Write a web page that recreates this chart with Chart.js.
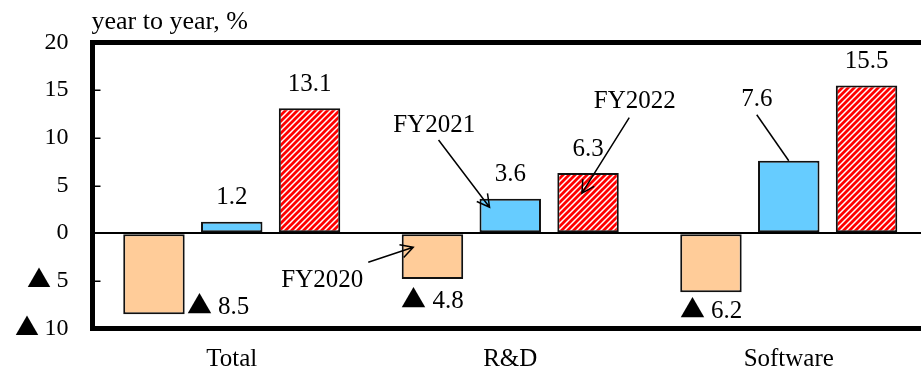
<!DOCTYPE html>
<html>
<head>
<meta charset="utf-8">
<script src="https://cdn.jsdelivr.net/npm/chart.js@4/dist/chart.umd.min.js"></script>
<style>
  /* full-width triangle used as the minus sign */
  @font-face {
    font-family: 'MinusMark';
    src: local('Noto Sans CJK JP'), local('Noto Sans CJK JP Regular'), local('NotoSansCJKjp-Regular'), local('Noto Sans CJK SC');
    unicode-range: U+25B2;
  }
  html, body { margin: 0; padding: 0; background: #fff; overflow: hidden; }
  #wrap { width: 940px; height: 371px; }
</style>
</head>
<body>
<div id="wrap"><canvas id="c" width="940" height="371"></canvas></div>
<script>
// Categories and year-on-year changes (%)
const categories = ['Total', 'R&D', 'Software'];
const seriesNames = ['FY2020', 'FY2021', 'FY2022'];
const fy2020 = [-8.5, -4.8, -6.2];
const fy2021 = [1.2, 3.6, 7.6];
const fy2022 = [13.1, 6.3, 15.5];
const yMin = -10;
const yMax = 20;
const yStep = 5;
const unitLabel = 'year to year, %';

const FONT = 'MinusMark, "Liberation Serif", "Times New Roman", serif';
const fmtSigned = (v, digits) => (v < 0 ? '\u25B2 ' : '') + Math.abs(v).toFixed(digits);

// Red diagonal hatch for the latest fiscal year
function makeHatch() {
  const s = 6;
  const tile = document.createElement('canvas');
  tile.width = s; tile.height = s;
  const g = tile.getContext('2d');
  g.fillStyle = '#ffffff';
  g.fillRect(0, 0, s, s);
  g.strokeStyle = '#ff0000';
  g.lineWidth = 2.8;
  g.beginPath();
  g.moveTo(-1, s + 1); g.lineTo(s + 1, -1);
  g.moveTo(-1, 1); g.lineTo(1, -1);
  g.moveTo(s - 1, s + 1); g.lineTo(s + 1, s - 1);
  g.stroke();
  return g.createPattern(tile, 'repeat');
}

// Value label placement relative to the end of each bar: [dx, baseline dy, align, leader]
const labelPlacement = [
  [[0, 0, 'right-of'], [0, 29, 'center'], [0, 26, 'center']],
  [[0, -17.5, 'center'], [0, -17.5, 'center'], [-32, -55, 'center', true]],
  [[0, -17.5, 'center'], [0, -17.5, 'center'], [0, -17.5, 'center']]
];

// Series callouts: text and arrow positions as (category, pixel offset, value)
const callouts = [
  { text: seriesNames[0], cat: 1, tx: -188, ty: -5.64, ax: -142, ay: -3.05, bx: -97, by: -1.48 },
  { text: seriesNames[1], cat: 1, tx: -76, ty: 10.62, ax: -71.7, ay: 9.78, bx: -20.7, by: 2.72 },
  { text: seriesNames[2], cat: 1, tx: 124.5, ty: 13.1, ax: 119, ay: 12.12, bx: 71.7, by: 4.19 }
];

const decorations = {
  id: 'decorations',
  afterDatasetsDraw(chart) {
    const ctx = chart.ctx;
    const area = chart.chartArea;
    const xs = chart.scales.x;
    const ys = chart.scales.y;
    ctx.save();

    // short inner tick marks on the value axis
    ctx.strokeStyle = '#000';
    ctx.lineWidth = 1.5;
    for (let v = yMin + yStep; v < yMax; v += yStep) {
      if (v === 0) continue;
      const y = Math.round(ys.getPixelForValue(v)) + 0.25;
      ctx.beginPath();
      ctx.moveTo(area.left, y);
      ctx.lineTo(area.left + 8, y);
      ctx.stroke();
    }

    // value labels
    ctx.fillStyle = '#000';
    ctx.font = '25px ' + FONT;
    ctx.textBaseline = 'alphabetic';
    chart.data.datasets.forEach((ds, di) => {
      const meta = chart.getDatasetMeta(di);
      meta.data.forEach((el, i) => {
        const v = ds.data[i];
        const [dx, dy, align, leader] = labelPlacement[di][i];
        const text = fmtSigned(v, 1);
        let x = el.x + dx;
        const y = el.y + dy;
        if (align === 'right-of') {
          ctx.textAlign = 'left';
          x = el.x + el.width / 2 + 2;
        } else {
          ctx.textAlign = 'center';
        }
        ctx.fillText(text, x, y);
        if (leader) {
          ctx.lineWidth = 1.5;
          ctx.beginPath();
          ctx.moveTo(el.x + dx, el.y + dy + 9);
          ctx.lineTo(el.x, el.y);
          ctx.stroke();
        }
      });
    });

    // series callouts with arrows
    ctx.textAlign = 'center';
    ctx.lineWidth = 1.5;
    callouts.forEach(c => {
      const cx = xs.getPixelForValue(c.cat);
      ctx.fillText(c.text, cx + c.tx, ys.getPixelForValue(c.ty));
      const x1 = cx + c.ax, y1 = ys.getPixelForValue(c.ay);
      const x2 = cx + c.bx, y2 = ys.getPixelForValue(c.by);
      const ang = Math.atan2(y2 - y1, x2 - x1);
      const head = 14, spread = 0.5;
      ctx.beginPath();
      ctx.moveTo(x1, y1);
      ctx.lineTo(x2, y2);
      ctx.moveTo(x2 - head * Math.cos(ang - spread), y2 - head * Math.sin(ang - spread));
      ctx.lineTo(x2, y2);
      ctx.lineTo(x2 - head * Math.cos(ang + spread), y2 - head * Math.sin(ang + spread));
      ctx.stroke();
    });

    // unit caption above the plot
    ctx.textAlign = 'left';
    ctx.font = '26px ' + FONT;
    ctx.fillText(unitLabel, area.left - 1, 29);

    // plot frame: top, left and bottom edges
    ctx.lineWidth = 5;
    ctx.lineJoin = 'miter';
    ctx.beginPath();
    ctx.moveTo(area.right + 10, area.top);
    ctx.lineTo(area.left, area.top);
    ctx.lineTo(area.left, area.bottom);
    ctx.lineTo(area.right + 10, area.bottom);
    ctx.stroke();
    ctx.restore();
  }
};

function draw() {
  const hatch = makeHatch();
  new Chart(document.getElementById('c'), {
    type: 'bar',
    data: {
      labels: categories,
      datasets: [
        { label: seriesNames[0], data: fy2020, backgroundColor: '#FFCC99' },
        { label: seriesNames[1], data: fy2021, backgroundColor: '#66CCFF' },
        { label: seriesNames[2], data: fy2022, backgroundColor: hatch }
      ].map(d => Object.assign(d, {
        borderColor: '#111',
        borderWidth: 2,
        borderSkipped: false,
        categoryPercentage: 0.838,
        barPercentage: 0.79
      }))
    },
    options: {
      responsive: false,
      animation: false,
      devicePixelRatio: 1,
      layout: { padding: { top: 42.5, right: 12, left: 0, bottom: 0 } },
      plugins: { legend: { display: false }, tooltip: { enabled: false }, title: { display: false } },
      scales: {
        x: {
          grid: { display: false, drawTicks: false },
          border: { display: false },
          ticks: { color: '#000', font: { family: FONT, size: 25 }, padding: 16 },
          afterFit(scale) { scale.height = 42.5; }
        },
        y: {
          min: yMin,
          max: yMax,
          grid: {
            drawTicks: false,
            lineWidth: 2,
            color: ctx => (ctx.tick && ctx.tick.value === 0 ? '#000' : 'rgba(0,0,0,0)')
          },
          border: { display: false },
          ticks: {
            stepSize: yStep,
            color: '#000',
            padding: 24,
            font: { family: FONT, size: 24 },
            callback: v => fmtSigned(v, 0)
          },
          afterFit(scale) { scale.width = 92.5; }
        }
      }
    },
    plugins: [decorations]
  });
}

Promise.all([
  document.fonts.load('25px MinusMark', '\u25B2'),
  document.fonts.load('25px "Liberation Serif"', '0')
]).catch(() => {}).then(draw);
</script>
</body>
</html>
